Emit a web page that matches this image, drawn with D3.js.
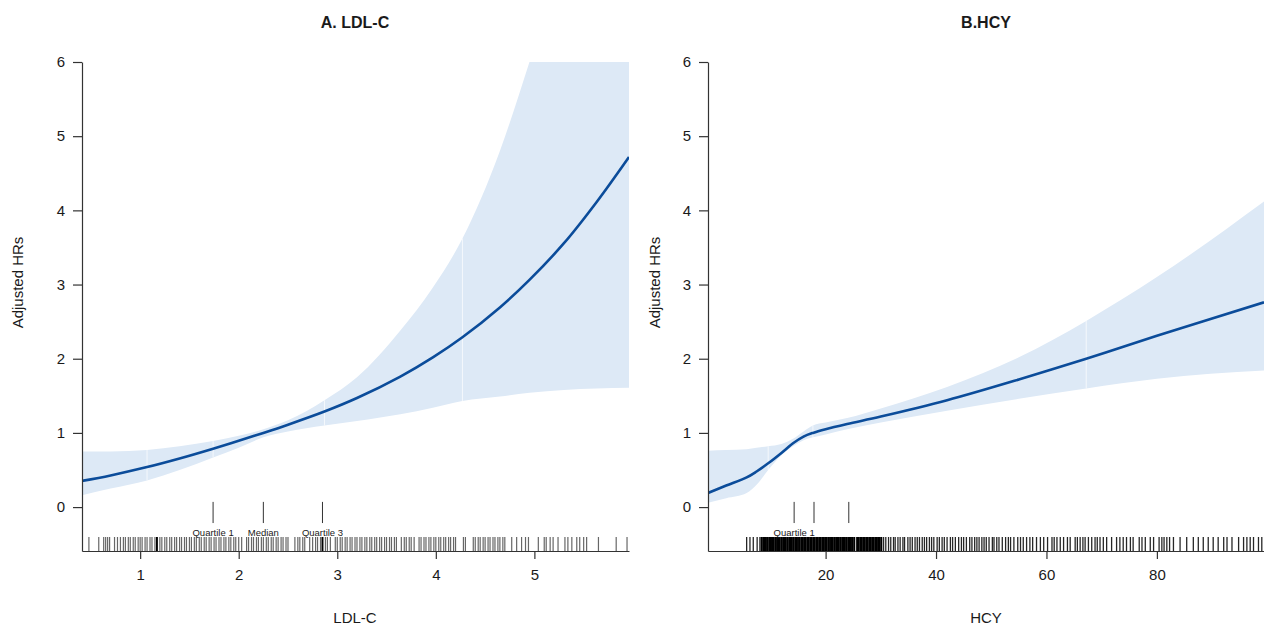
<!DOCTYPE html>
<html>
<head>
<meta charset="utf-8">
<script src="https://cdn.jsdelivr.net/npm/d3@7"></script>
<style>
  body { margin: 0; background: #fff; }
  text { font-family: "Liberation Sans", Arial, sans-serif; fill: #1a1a1a; }
</style>
</head>
<body>
<svg id="chart" width="1264" height="626"></svg>
<script>
// ---- panel A: LDL-C ----
const ldlX     = [0.41, 0.7, 1.07, 1.4, 1.74, 2.0, 2.25, 2.5, 2.87, 3.2, 3.64, 3.97, 4.27, 4.65, 4.95, 5.3, 5.63, 5.96];
const ldlHR    = [0.353, 0.427, 0.539, 0.655, 0.787, 0.894, 1.0, 1.111, 1.288, 1.47, 1.759, 2.018, 2.289, 2.691, 3.062, 3.557, 4.11, 4.72];
const ldlUpper = [0.75, 0.75, 0.77, 0.82, 0.89, 0.96, 1.05, 1.17, 1.44, 1.75, 2.38, 2.96, 3.62, 4.8, 6.0, 7.5, 8.7, 10];
const ldlLower = [0.16, 0.25, 0.36, 0.5, 0.67, 0.8, 0.94, 1.02, 1.10, 1.16, 1.25, 1.34, 1.43, 1.49, 1.54, 1.58, 1.60, 1.61];
const ldlKnots = [1.07, 1.74, 2.87, 4.27];
const ldlQuart = [1.74, 2.25, 2.85];
const ldlQuartLabels = ["Quartile 1", "Median", "Quartile 3"];
const ldlTicks = [1, 2, 3, 4, 5];
const ldlRug = [0.48, 0.58, 0.63, 0.65, 0.67, 0.69,
  0.74,0.77,0.80,0.83,0.85,0.88,0.90,0.93,0.95,0.98,1.00,1.02,1.05,1.07,1.10,1.12,1.15,1.17,1.20,1.22,1.25,1.27,1.30,1.32,
  1.35,1.37,1.40,1.42,1.45,1.47,1.50,1.52,1.55,1.57,1.60,1.62,1.65,1.67,1.70,1.72,1.75,1.77,1.80,1.82,1.85,1.87,1.90,1.92,
  1.95,1.97,2.00,2.03,2.08,2.10,2.13,2.15,2.18,2.20,2.23,2.25,2.28,2.30,2.33,2.35,2.38,2.40,2.43,2.45,2.48,2.50,2.57,2.60,
  2.62,2.65,2.67,2.72,2.75,2.78,2.80,2.83,2.85,2.88,2.90,2.93,2.98,3.00,3.03,3.05,3.08,3.10,3.13,3.15,3.18,3.20,3.23,3.25,
  3.28,3.30,3.33,3.35,3.38,3.40,3.43,3.45,3.48,3.50,3.53,3.55,3.58,3.60,3.65,3.68,3.70,3.73,3.75,3.78,3.83,3.85,3.88,3.90,
  3.93,3.95,3.98,4.00,4.03,4.05,4.08,4.10,4.13,4.15,4.18,4.20,4.28,4.30,4.38,4.40,4.43,4.45,4.48,4.50,4.53,4.55,4.58,4.60,
  4.63,4.65,4.68,4.70,
  4.77,4.82,4.87,4.91,4.94,5.04,5.10,5.12,5.16,5.19,5.24,5.31,5.34,5.38,5.43,5.46,5.50,5.53,5.65,5.83,5.94];
const ldlRugDark = [1.17, 2.85];

// ---- panel B: HCY ----
const hcyX     = [-1.3, 2, 5.7, 7.5, 9.6, 12, 14.1, 16, 17.7, 20, 23.9, 30, 42, 55, 67.2, 80, 99.4];
const hcyHR    = [0.19, 0.29, 0.40, 0.48, 0.59, 0.73, 0.86, 0.95, 1.0, 1.05, 1.12, 1.22, 1.44, 1.72, 2.0, 2.31, 2.76];
const hcyUpper = [0.76, 0.77, 0.78, 0.80, 0.82, 0.85, 0.92, 1.02, 1.1, 1.14, 1.2, 1.33, 1.62, 2.02, 2.51, 3.1, 4.12];
const hcyLower = [0.06, 0.12, 0.19, 0.3, 0.5, 0.7, 0.82, 0.9, 0.94, 0.98, 1.05, 1.14, 1.3, 1.46, 1.6, 1.73, 1.84];
const hcyKnots = [9.6, 17.7, 67.2];
const hcyQuart = [14.3, 17.9, 24.2];
const hcyQuartLabels = ["Quartile 1", "", ""];
const hcyTicks = [20, 40, 60, 80];
const hcyRug = [5.7, 6.3, 6.9, 7.6, 8.1,
  30.5,30.9,31.4,31.8,32.3,32.6,33.1,33.5,34.0,34.3,34.9,35.3,35.7,36.2,36.6,37.0,37.5,37.9,38.3,38.8,39.2,39.6,40.2,40.6,
  41.1,41.5,42.0,42.6,43.0,43.5,44.1,44.6,45.0,45.5,46.1,46.5,47.0,47.4,47.8,48.3,48.7,49.1,49.6,50.2,50.5,51.0,51.4,52.0,
  52.6,53.1,53.5,54.1,54.8,55.3,55.8,56.4,57.0,57.5,58.2,58.9,59.5,
  60.2,61.0,61.4,61.9,62.5,63.1,63.8,64.3,65.2,65.6,66.1,66.6,67.0,67.6,68.2,68.8,69.2,69.7,70.3,70.9,71.8,72.7,73.3,73.9,
  74.5,75.2,75.7,76.8,77.3,77.9,78.8,79.4,80.4,80.9,81.3,81.8,82.3,83.0,84.2,85.4,86.6,87.5,88.4,89.3,90.2,91.1,92.1,92.7,
  93.6,94.8,95.7,96.3,96.9,97.5,98.4,99.0];
const hcyRugDense = [8.4,8.7,9.0,9.2,9.5,9.8,10.1,10.3,10.6,10.9,11.2,11.4,11.7,12.0,12.3,12.5,12.8,13.1,13.4,13.6,13.9,14.2,
  14.5,14.7,15.0,15.3,15.6,15.8,16.1,16.4,16.7,16.9,17.2,17.5,17.8,18.0,18.3,18.6,18.9,19.1,19.4,19.7,20.0,20.2,20.5,20.8,
  21.1,21.3,21.6,21.9,22.2,22.4,22.7,23.0,23.3,23.5,23.8,24.1,24.4,24.6,24.9,25.2,25.7,26.0,26.3,26.5,26.8,27.1,27.4,27.6,
  27.9,28.2,28.5,28.7,29.0,29.3,29.6,29.8,30.1];

const yTicks = [0, 1, 2, 3, 4, 5, 6];

const svg = d3.select("#chart");
svg.append("rect").attr("width", 1264).attr("height", 626).attr("fill", "#fff");

const panels = [
  { id: "a", title: "A. LDL-C", xlab: "LDL-C", left: 82, right: 629, domain: [0.41, 5.96], mid: 355,
    x: ldlX, hr: ldlHR, up: ldlUpper, lo: ldlLower, knots: ldlKnots, quart: ldlQuart,
    qlab: ldlQuartLabels, ticks: ldlTicks, rug: ldlRug, rugDense: ldlRugDark, ylabX: 23,
    rugOpacity: 0.6, rugWidth: 1.2 },
  { id: "b", title: "B.HCY", xlab: "HCY", left: 708, right: 1264, domain: [-1.3, 99.4], mid: 986,
    x: hcyX, hr: hcyHR, up: hcyUpper, lo: hcyLower, knots: hcyKnots, quart: hcyQuart,
    qlab: hcyQuartLabels, ticks: hcyTicks, rug: hcyRug, rugDense: hcyRugDense, ylabX: 660,
    rugOpacity: 0.85, rugWidth: 1.3 }
];

const plotTop = 62, plotBottom = 551;
const y = d3.scaleLinear().domain([-0.592, 6]).range([plotBottom, plotTop]);

panels.forEach(p => {
  const x = d3.scaleLinear().domain(p.domain).range([p.left, p.right]);
  const g = svg.append("g");

  g.append("clipPath").attr("id", "clip-" + p.id)
    .append("rect").attr("x", p.left).attr("y", plotTop)
    .attr("width", p.right - p.left).attr("height", plotBottom - plotTop);

  const plot = g.append("g").attr("clip-path", `url(#clip-${p.id})`);
  const pts = p.x.map((v, i) => ({ x: v, hr: p.hr[i], up: p.up[i], lo: p.lo[i] }));

  // confidence band
  plot.append("path").datum(pts)
    .attr("fill", "#dde9f6")
    .attr("d", d3.area().x(d => x(d.x)).y0(d => y(d.lo)).y1(d => y(d.up)).curve(d3.curveMonotoneX));

  // faint seams at the knots
  p.knots.forEach(k => {
    const d = pts.find(e => e.x === k);
    plot.append("line")
      .attr("x1", x(k)).attr("x2", x(k))
      .attr("y1", y(d.lo)).attr("y2", y(Math.min(d.up, 6.2)))
      .attr("stroke", "#fff").attr("stroke-opacity", 0.7).attr("stroke-width", 1);
  });

  // fitted HR
  plot.append("path").datum(pts)
    .attr("fill", "none").attr("stroke", "#0b4c9a").attr("stroke-width", 2.6)
    .attr("d", d3.line().x(d => x(d.x)).y(d => y(d.hr)).curve(d3.curveCatmullRom.alpha(0.5)));

  // rug
  plot.selectAll(".rug").data(p.rug).join("line")
    .attr("x1", d => x(d)).attr("x2", d => x(d))
    .attr("y1", 537).attr("y2", plotBottom)
    .attr("stroke", "#000").attr("stroke-opacity", p.rugOpacity).attr("stroke-width", p.rugWidth);
  plot.selectAll(".rugd").data(p.rugDense).join("line")
    .attr("x1", d => x(d)).attr("x2", d => x(d))
    .attr("y1", 537).attr("y2", plotBottom)
    .attr("stroke", "#000").attr("stroke-width", 1.9);

  // quartile markers
  p.quart.forEach((q, i) => {
    g.append("line")
      .attr("x1", x(q)).attr("x2", x(q))
      .attr("y1", y(0.07)).attr("y2", y(-0.215))
      .attr("stroke", "#333").attr("stroke-width", 1);
    if (p.qlab[i]) {
      g.append("text").attr("x", x(q)).attr("y", 535.5)
        .attr("text-anchor", "middle").style("font-size", "9.5px").text(p.qlab[i]);
    }
  });

  // axes
  const xAxis = d3.axisBottom(x).tickValues(p.ticks).tickFormat(d3.format("d"))
    .tickSize(8).tickSizeOuter(0).tickPadding(10);
  const gx = g.append("g").attr("transform", `translate(0,${plotBottom})`).call(xAxis);
  const yAxis = d3.axisLeft(y).tickValues(yTicks).tickFormat(d3.format("d"))
    .tickSize(9).tickSizeOuter(0).tickPadding(8);
  const gy = g.append("g").attr("transform", `translate(${p.left},0)`).call(yAxis);
  [gx, gy].forEach(a => {
    a.selectAll("path, line").attr("stroke", "#333").attr("stroke-width", 1.2);
    a.selectAll("text").style("font-size", "15px").style("font-family", '"Liberation Sans", Arial, sans-serif').attr("fill", "#1a1a1a");
  });

  // titles
  g.append("text").attr("x", p.mid).attr("y", 28)
    .attr("text-anchor", "middle").style("font-size", "16px").style("font-weight", "bold").text(p.title);
  g.append("text").attr("x", p.mid).attr("y", 623)
    .attr("text-anchor", "middle").style("font-size", "15px").text(p.xlab);
  g.append("text").attr("transform", `translate(${p.ylabX},${(plotTop + plotBottom) / 2 - 24}) rotate(-90)`)
    .attr("text-anchor", "middle").style("font-size", "15px").text("Adjusted HRs");
});
</script>
</body>
</html>
